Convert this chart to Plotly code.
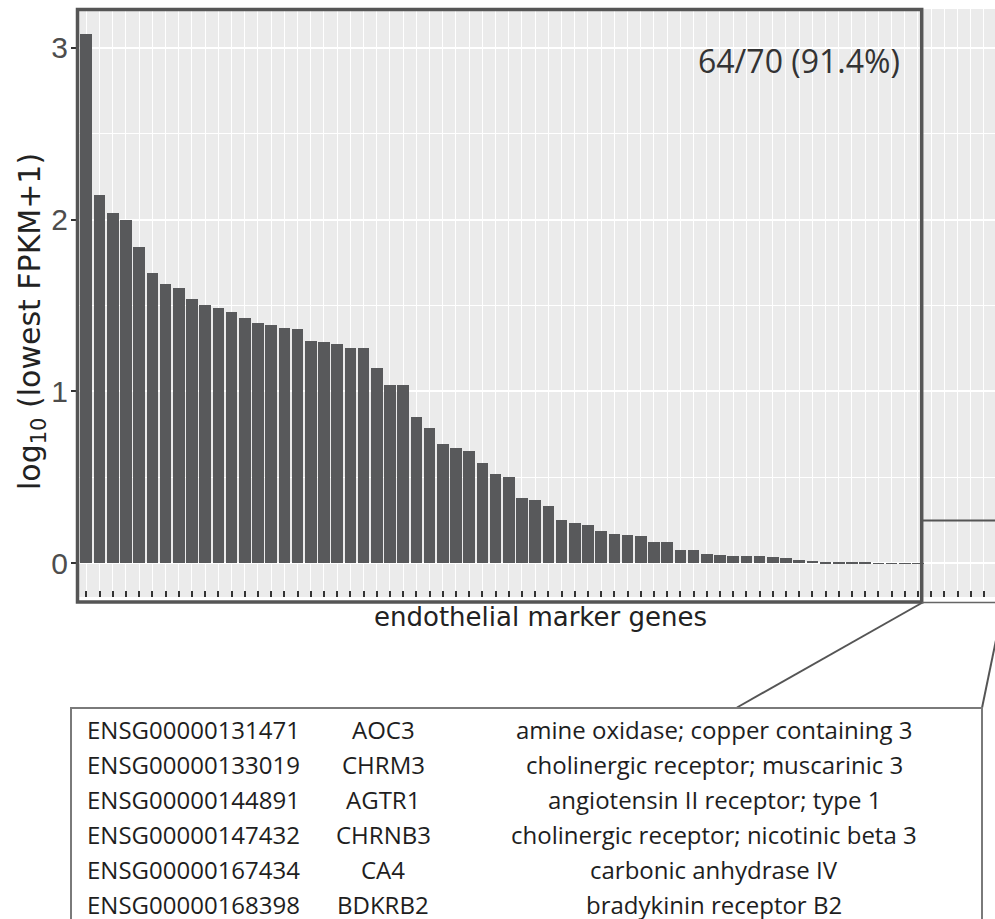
import plotly.graph_objects as go

# ---------------- data ----------------
marker_index = list(range(1, 71))
lowest_log_fpkm = [3.077, 2.141, 2.038, 1.996, 1.841, 1.690, 1.626, 1.602, 1.537, 1.502,
                   1.488, 1.462, 1.428, 1.397, 1.389, 1.372, 1.366, 1.292, 1.285, 1.279,
                   1.254, 1.250, 1.135, 1.035, 1.035, 0.853, 0.787, 0.696, 0.672, 0.655,
                   0.583, 0.523, 0.504, 0.378, 0.368, 0.333, 0.252, 0.233, 0.225, 0.188,
                   0.169, 0.165, 0.159, 0.126, 0.122, 0.079, 0.076, 0.054, 0.050, 0.046,
                   0.044, 0.042, 0.039, 0.029, 0.023, 0.015, 0.008, 0.005, 0.004, 0.003,
                   0.002, 0.001, 0.0008, 0.0005,
                   0, 0, 0, 0, 0, 0]
detected_label = "64/70 (91.4%)"
side_level = 0.25

ensembl_ids = ["ENSG00000131471", "ENSG00000133019", "ENSG00000144891",
               "ENSG00000147432", "ENSG00000167434", "ENSG00000168398"]
gene_symbols = ["AOC3", "CHRM3", "AGTR1", "CHRNB3", "CA4", "BDKRB2"]
gene_descriptions = ["amine oxidase; copper containing 3",
                     "cholinergic receptor; muscarinic 3",
                     "angiotensin II receptor; type 1",
                     "cholinergic receptor; nicotinic beta 3",
                     "carbonic anhydrase IV",
                     "bradykinin receptor B2"]

# ---------------- layout helpers (pixel -> paper) ----------------
W, H = 995, 919
L, R, T, B = 78, 0, 9, 322
PW = W - L - R
PH = H - T - B


def px(x):
    return (x - L) / PW


def py(y):
    return (T + PH - y) / PH


fig = go.Figure()
fig.add_trace(go.Bar(x=marker_index, y=lowest_log_fpkm, width=0.88,
                     marker=dict(color="#58595b", line=dict(width=0)),
                     showlegend=False, hoverinfo="skip"))

shapes = []
# frame around the detected genes
shapes.append(dict(type="rect", xref="paper", yref="paper",
                   x0=px(77.5), x1=px(921.7), y0=py(602), y1=py(9.5),
                   line=dict(color="#555555", width=3.5)))
# thin bottom line continuing to the right
shapes.append(dict(type="line", xref="paper", yref="paper",
                   x0=px(921.7), x1=1, y0=py(602.5), y1=py(602.5),
                   line=dict(color="#666666", width=1.5)))
# horizontal line in the right-hand region
shapes.append(dict(type="line", xref="paper", yref="y",
                   x0=px(921.7), x1=1, y0=side_level, y1=side_level,
                   line=dict(color="#555555", width=2)))
# callout lines
shapes.append(dict(type="line", xref="paper", yref="paper",
                   x0=px(921.7), y0=py(603), x1=px(737), y1=py(707.5),
                   line=dict(color="#555555", width=2)))
shapes.append(dict(type="line", xref="paper", yref="paper",
                   x0=px(996), y0=py(640), x1=px(982), y1=py(708),
                   line=dict(color="#555555", width=2)))
# table box
shapes.append(dict(type="rect", xref="paper", yref="paper",
                   x0=px(71), x1=px(982), y0=py(935), y1=py(708),
                   line=dict(color="#7a7a7a", width=2)))

annotations = []
annotations.append(dict(text=detected_label, xref="paper", yref="paper",
                        x=px(902), y=py(60), xanchor="right", yanchor="middle",
                        showarrow=False,
                        font=dict(family="Open Sans", size=32, color="#333333")))
annotations.append(dict(text="endothelial marker genes", xref="paper", yref="paper",
                        x=px(540.5), y=py(617), xanchor="center", yanchor="middle",
                        showarrow=False,
                        font=dict(family="DejaVu Sans", size=26, color="#222222")))
annotations.append(dict(text="log<sub>10</sub> (lowest FPKM+1)", xref="paper", yref="paper",
                        x=px(31), y=py(322), xanchor="center", yanchor="middle",
                        textangle=-90, showarrow=False,
                        font=dict(family="DejaVu Sans", size=30, color="#222222")))

row_y = [729.5, 764.5, 799.5, 834.5, 869.5, 904.5]
for i in range(len(ensembl_ids)):
    f = dict(family="Open Sans", size=24, color="#1e1e1e")
    annotations.append(dict(text=ensembl_ids[i], xref="paper", yref="paper",
                            x=px(85), y=py(row_y[i]), xanchor="left", yanchor="middle",
                            showarrow=False, font=f))
    annotations.append(dict(text=gene_symbols[i], xref="paper", yref="paper",
                            x=px(383), y=py(row_y[i]), xanchor="center", yanchor="middle",
                            showarrow=False, font=f))
    annotations.append(dict(text=gene_descriptions[i], xref="paper", yref="paper",
                            x=px(714), y=py(row_y[i]), xanchor="center", yanchor="middle",
                            showarrow=False, font=f))

fig.update_layout(
    width=W, height=H,
    margin=dict(l=L, r=R, t=T, b=B, pad=0),
    paper_bgcolor="white",
    plot_bgcolor="#ebebeb",
    bargap=0,
    shapes=shapes,
    annotations=annotations,
    xaxis=dict(range=[0.371, 69.84], tickmode="linear", tick0=1, dtick=1,
               showticklabels=False, ticks="inside", ticklen=6, tickwidth=1.5,
               tickcolor="#333333", showgrid=True, gridcolor="white", gridwidth=1.3,
               zeroline=False, showline=False, fixedrange=True),
    yaxis=dict(range=[-0.195, 3.224], tickvals=[0, 1, 2, 3], ticktext=["0", "1", "2", "3"],
               ticks="outside", ticklen=6, tickwidth=1.5, tickcolor="#333333",
               ticklabelstandoff=-3,
               tickfont=dict(family="Liberation Sans", size=30, color="#4d4d4d"),
               showgrid=True, gridcolor="white", gridwidth=1.5,
               minor=dict(dtick=0.5, tick0=0, showgrid=True, gridcolor="white", gridwidth=1.0),
               zeroline=False, showline=False, fixedrange=True),
)

fig.write_html("out.html")
